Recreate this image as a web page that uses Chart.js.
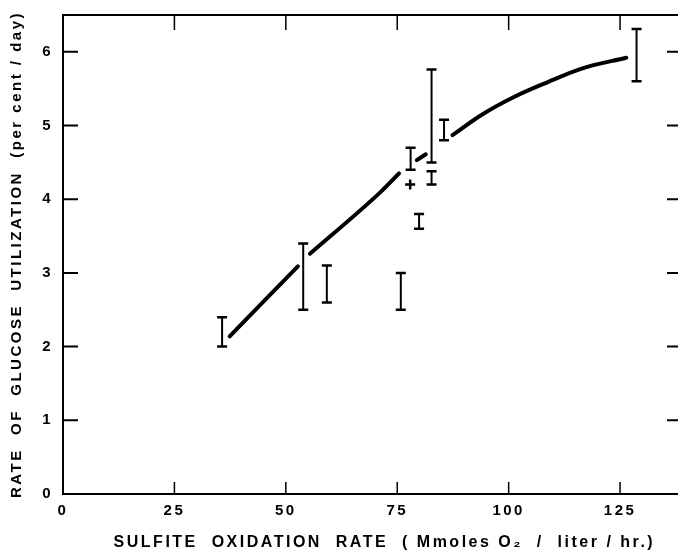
<!DOCTYPE html>
<html>
<head>
<meta charset="utf-8">
<script src="https://cdn.jsdelivr.net/npm/chart.js@4/dist/chart.umd.min.js"></script>
<style>
  html, body { margin: 0; padding: 0; background: #fff; }
  #wrap { width: 678px; height: 555px; }
</style>
</head>
<body>
<div id="wrap"><canvas id="glucoseChart"></canvas></div>
<script>
// error bars: x position, low and high end
const BAR_X = [35.7, 53.9, 59.2, 75.8, 78.0, 79.9, 82.7, 82.7, 85.5, 128.7];
const BAR_LOW = [2.0, 2.5, 2.6, 2.5, 4.4, 3.6, 4.5, 4.2, 4.8, 5.6];
const BAR_HIGH = [2.4, 3.4, 3.1, 3.0, 4.7, 3.8, 5.76, 4.38, 5.08, 6.31];

// single "+" point
const PLUS_X = [77.9];
const PLUS_Y = [4.2];

// hand drawn curve, broken where it meets the bars (null = gap)
const CURVE_X = [37.4, 52.7, 54.0, 55.4, 71.3, 75.4, 77.0, 79.4, 81.4, 84.0, 87.4, 93.8, 101.3, 108.8, 116.2, 126.4];
const CURVE_Y = [2.14, 3.09, null, 3.26, 4.10, 4.35, null, 4.53, 4.61, null, 4.87, 5.14, 5.39, 5.59, 5.77, 5.92];

const X_TICKS = [0, 25, 50, 75, 100, 125];
const Y_TICKS = [0, 1, 2, 3, 4, 5, 6];

$main();

function $main(){
    const CANVAS = document.getElementById("glucoseChart");
    const FONT = "'Liberation Sans', Arial, sans-serif";

    const curveData = CURVE_X.map((x, i) => ({x: x, y: CURVE_Y[i]}));
    const plusData = PLUS_X.map((x, i) => ({x: x, y: PLUS_Y[i]}));

    // draws the I-beam bars, the frame and inward ticks
    const framePlugin = {
        id: "frame",
        beforeDraw(chart){
            chart.ctx.letterSpacing = "2.5px";
        },
        afterDatasetsDraw(chart){
            const ctx = chart.ctx;
            const xs = chart.scales.x;
            const ys = chart.scales.y;
            const area = chart.chartArea;
            ctx.save();
            ctx.strokeStyle = "#000";
            ctx.lineCap = "butt";

            // error bars
            BAR_X.forEach((v, i) => {
                const px = xs.getPixelForValue(v);
                const top = ys.getPixelForValue(BAR_HIGH[i]);
                const bot = ys.getPixelForValue(BAR_LOW[i]);
                ctx.lineWidth = 2;
                ctx.beginPath();
                ctx.moveTo(px, top);
                ctx.lineTo(px, bot);
                ctx.stroke();
                ctx.lineWidth = 2.5;
                ctx.beginPath();
                ctx.moveTo(px - 5, top);
                ctx.lineTo(px + 5, top);
                ctx.moveTo(px - 5, bot);
                ctx.lineTo(px + 5, bot);
                ctx.stroke();
            });

            // frame (right side lies off the page)
            ctx.lineWidth = 2;
            ctx.beginPath();
            ctx.moveTo(area.right, area.top);
            ctx.lineTo(area.left, area.top);
            ctx.lineTo(area.left, area.bottom);
            ctx.lineTo(area.right, area.bottom);
            ctx.stroke();

            // inward ticks
            ctx.lineWidth = 1.5;
            ctx.beginPath();
            X_TICKS.forEach(v => {
                if (v === 0) return;
                const px = xs.getPixelForValue(v);
                ctx.moveTo(px, area.bottom);
                ctx.lineTo(px, area.bottom - 12);
                ctx.moveTo(px, area.top);
                ctx.lineTo(px, area.top + 15);
            });
            ctx.stroke();
            ctx.lineWidth = 2;
            ctx.beginPath();
            Y_TICKS.forEach(v => {
                if (v === 0) return;
                const py = ys.getPixelForValue(v);
                ctx.moveTo(area.left, py);
                ctx.lineTo(area.left + 15, py);
                ctx.moveTo(area.right - 11, py);
                ctx.lineTo(area.right, py);
            });
            ctx.stroke();
            ctx.restore();
        },
        afterDraw(chart){
            chart.ctx.letterSpacing = "0px";
        }
    };

    new Chart(CANVAS, {
        type: "line",
        data: {
            datasets: [
                {
                    label: "curve",
                    data: curveData,
                    borderColor: "#000",
                    borderWidth: 4,
                    borderCapStyle: "round",
                    cubicInterpolationMode: "monotone",
                    pointRadius: 0,
                    spanGaps: false,
                    fill: false
                },
                {
                    label: "plus",
                    type: "scatter",
                    data: plusData,
                    pointStyle: "cross",
                    pointRadius: 5,
                    borderColor: "#000",
                    borderWidth: 2.5,
                    showLine: false
                }
            ]
        },
        options: {
            responsive: true,
            maintainAspectRatio: false,
            animation: false,
            events: [],
            layout: { autoPadding: false, padding: { top: 15, right: 0, left: 0, bottom: 0 } },
            plugins: {
                legend: { display: false },
                tooltip: { enabled: false }
            },
            scales: {
                x: {
                    type: "linear",
                    min: 0,
                    max: 138,
                    afterBuildTicks: s => { s.ticks = X_TICKS.map(v => ({value: v})); },
                    afterFit: s => { s.height = 61; s.paddingRight = 0; s.paddingLeft = 0; },
                    grid: { display: false, drawTicks: false },
                    border: { display: false },
                    ticks: {
                        color: "#000",
                        padding: 8,
                        maxRotation: 0,
                        font: { family: FONT, size: 15, weight: "bold" }
                    },
                    title: {
                        display: true,
                        text: "    SULFITE  OXIDATION  RATE  ( Mmoles O\u2082  /  liter / hr.)",
                        color: "#000",
                        padding: { top: 0, bottom: 3 },
                        font: { family: FONT, size: 16, weight: "bold" }
                    }
                },
                y: {
                    type: "linear",
                    min: 0,
                    max: 6.5,
                    afterBuildTicks: s => { s.ticks = Y_TICKS.map(v => ({value: v})); },
                    afterFit: s => { s.width = 63; s.paddingTop = 0; s.paddingBottom = 0; },
                    grid: { display: false, drawTicks: false },
                    border: { display: false },
                    ticks: {
                        color: "#000",
                        padding: 10,
                        font: { family: FONT, size: 15, weight: "bold" }
                    },
                    title: {
                        display: true,
                        text: "RATE  OF  GLUCOSE  UTILIZATION  (per cent / day)",
                        color: "#000",
                        padding: { top: 8, bottom: 0 },
                        font: { family: FONT, size: 15, weight: "bold" }
                    }
                }
            }
        },
        plugins: [framePlugin]
    });
}
</script>
</body>
</html>
